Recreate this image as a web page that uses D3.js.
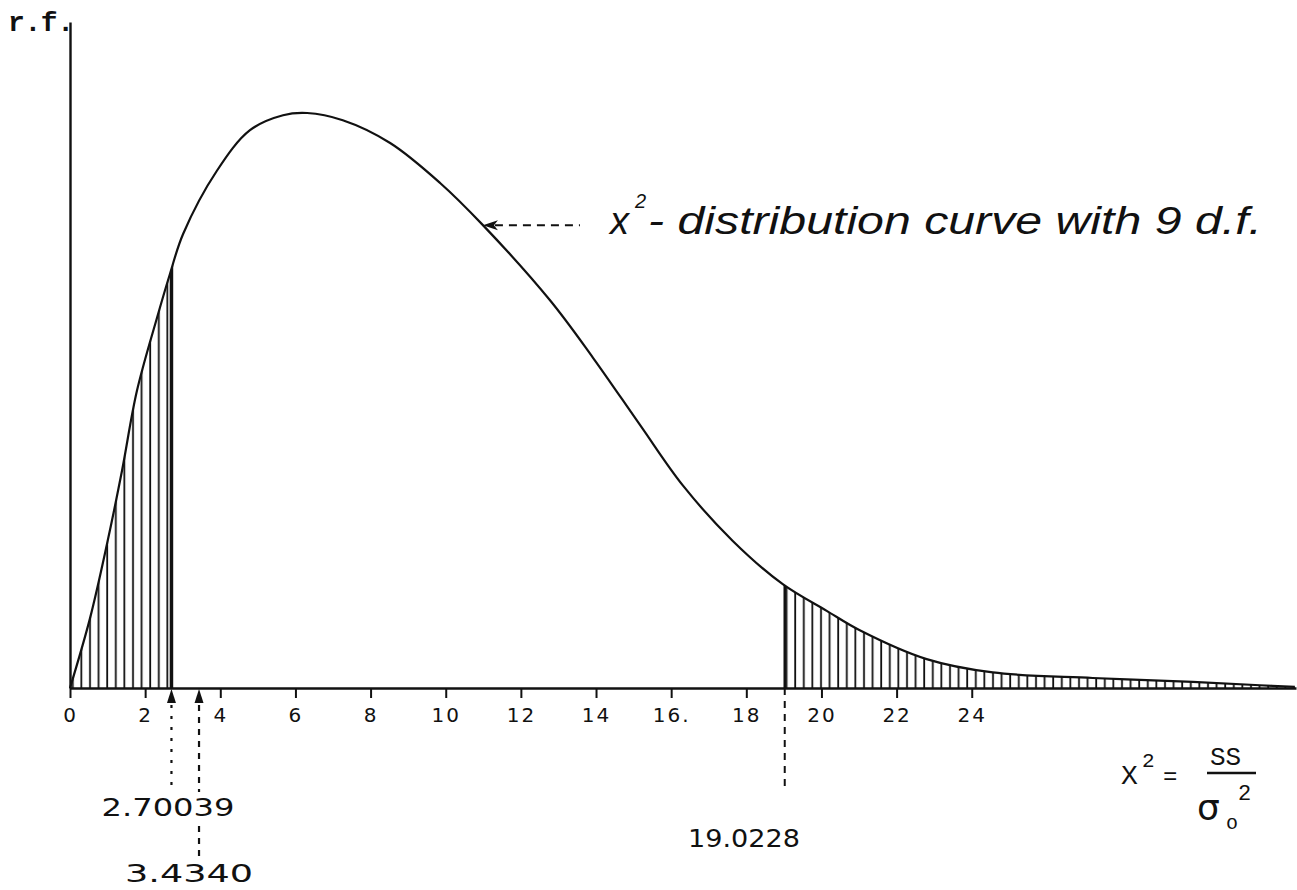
<!DOCTYPE html>
<html>
<head>
<meta charset="utf-8">
<script src="https://cdn.jsdelivr.net/npm/d3@7"></script>
<style>
    body { margin: 0; background: #fff; }
    svg { display: block; }
</style>
</head>
<body>
<div id="chart"></div>
<script>
'use strict';

// points (x = chi-square, y = relative frequency)
const curveX = [0, 0.53, 0.98, 1.38, 1.78, 2.32, 2.66, 3.01, 3.91, 4.79, 5.67, 6.31, 7.26, 8.52, 9.85,
                10.99, 12.77, 13.92, 15.17, 16.31, 17.64, 18.97, 20.14, 21.02, 22.80, 24.56, 27.22, 29.88, 31.67, 32.6];
const curveY = [0, 0.0125, 0.0258, 0.0390, 0.0535, 0.0668, 0.0746, 0.0818, 0.0932, 0.1005, 0.1032, 0.1036, 0.1023, 0.0982, 0.0910,
                0.0834, 0.0699, 0.0595, 0.0474, 0.0365, 0.0265, 0.0187, 0.0139, 0.0104, 0.0052, 0.0028, 0.0018, 0.0011, 0.0005, 0.0002];

const tickValues = [0, 2, 4, 6, 8, 10, 12, 14, 16, 18, 20, 22, 24];
const tickLabels = ["0", "2", "4", "6", "8", "10", "12", "14", "16.", "18", "20", "22", "24"];

const lowerCut = 2.70039;
const lowerMark = 3.4340;
const upperCut = 19.0228;
const cutLabels = ["2.70039", "3.4340", "19.0228"];
const noteIndex = 15;   // the curve point the annotation arrow touches

class ChiSquareSketch {

    constructor (id)
    {
        this.id = id;
        this.width = 1297;
        this.height = 890;
        this.base = 688;
        this.ink = "#111";
        this.xScale = d3.scaleLinear().domain([0, 32.63]).range([70, 1296]);
        this.yScale = d3.scaleLinear().domain([0, 0.12]).range([this.base, 22]);
        this.points = curveX.map((d, i) => [d, curveY[i]]);
        this.curve = d3.curveCatmullRom.alpha(0.5);
    }

    appendSvg ()
    {
        this.svg = d3.select('#' + this.id).append('svg')
            .attr('width', this.width)
            .attr('height', this.height);
        return this;
    }

    appendDefs ()
    {
        let defs = this.svg.append('defs');
        let pattern = defs.append('pattern')
            .attr('id', 'hatch')
            .attr('patternUnits', 'userSpaceOnUse')
            .attr('width', 8.6)
            .attr('height', 10);
        pattern.append('line')
            .attr('x1', 4).attr('x2', 4)
            .attr('y1', 0).attr('y2', 10)
            .attr('stroke', this.ink)
            .attr('stroke-width', 1.8);

        let area = d3.area()
            .x(d => this.xScale(d[0]))
            .y0(this.base)
            .y1(d => this.yScale(d[1]))
            .curve(this.curve);

        defs.append('clipPath')
            .attr('id', 'under')
            .append('path')
            .attr('d', area(this.points));
    }

    createAxes ()
    {
        let xAxis = d3.axisBottom(this.xScale)
            .tickValues(tickValues)
            .tickFormat((d, i) => tickLabels[i])
            .tickSize(10)
            .tickSizeOuter(0);

        let xg = this.svg.append('g')
            .attr('transform', 'translate(0,' + this.base + ')')
            .call(xAxis);
        xg.select('.domain').attr('stroke', this.ink).attr('stroke-width', 2.6);
        xg.selectAll('.tick line').attr('stroke', this.ink).attr('stroke-width', 2);
        xg.selectAll('.tick text')
            .attr('y', 20)
            .attr('fill', this.ink)
            .style('font-family', '"DejaVu Sans", sans-serif')
            .style('font-size', '20px')
            .style('letter-spacing', '2px');

        let yAxis = d3.axisLeft(this.yScale).tickValues([]).tickSizeOuter(0);
        let yg = this.svg.append('g')
            .attr('transform', 'translate(' + this.xScale(0) + ',0)')
            .call(yAxis);
        yg.select('.domain').attr('stroke', this.ink).attr('stroke-width', 2.4);

        this.svg.append('text')
            .attr('x', 8).attr('y', 31)
            .attr('textLength', 66)
            .attr('fill', this.ink)
            .style('font-family', '"Liberation Mono", monospace')
            .style('font-weight', 'bold')
            .style('font-size', '28px')
            .text('r.f.');
    }

    appendHatching ()
    {
        let x = this.xScale;
        let g = this.svg.append('g').attr('clip-path', 'url(#under)');

        g.append('rect')
            .attr('x', x(0)).attr('y', 0)
            .attr('width', x(lowerCut) - x(0)).attr('height', this.base)
            .attr('fill', 'url(#hatch)');
        g.append('rect')
            .attr('x', x(upperCut)).attr('y', 0)
            .attr('width', x(32.63) - x(upperCut)).attr('height', this.base)
            .attr('fill', 'url(#hatch)');

        g.append('line')
            .attr('x1', x(lowerCut)).attr('x2', x(lowerCut))
            .attr('y1', 0).attr('y2', this.base)
            .attr('stroke', this.ink).attr('stroke-width', 3.5);
        g.append('line')
            .attr('x1', x(upperCut)).attr('x2', x(upperCut))
            .attr('y1', 0).attr('y2', this.base)
            .attr('stroke', this.ink).attr('stroke-width', 2.5);
    }

    appendCurve ()
    {
        let line = d3.line()
            .x(d => this.xScale(d[0]))
            .y(d => this.yScale(d[1]))
            .curve(this.curve);

        this.svg.append('path')
            .attr('d', line(this.points))
            .attr('fill', 'none')
            .attr('stroke', this.ink)
            .attr('stroke-width', 2.2);
    }

    appendCutMarks ()
    {
        let x = this.xScale;
        let b = this.base;
        let font = '"DejaVu Sans", sans-serif';

        [lowerCut, lowerMark].forEach(v => {
            let cx = x(v);
            this.svg.append('path')
                .attr('d', 'M' + cx + ',' + (b + 1) + 'L' + (cx + 4.5) + ',' + (b + 15) + 'L' + (cx - 4.5) + ',' + (b + 15) + 'Z')
                .attr('fill', this.ink);
        });

        this.svg.append('line')
            .attr('x1', x(lowerCut)).attr('x2', x(lowerCut))
            .attr('y1', b + 17).attr('y2', 792)
            .attr('stroke', this.ink).attr('stroke-width', 2.2)
            .attr('stroke-dasharray', '3,8');

        [[b + 17, 792], [826, 860]].forEach(seg => {
            this.svg.append('line')
                .attr('x1', x(lowerMark)).attr('x2', x(lowerMark))
                .attr('y1', seg[0]).attr('y2', seg[1])
                .attr('stroke', this.ink).attr('stroke-width', 2.2)
                .attr('stroke-dasharray', '6,6');
        });

        this.svg.append('line')
            .attr('x1', x(upperCut)).attr('x2', x(upperCut))
            .attr('y1', b).attr('y2', 790)
            .attr('stroke', this.ink).attr('stroke-width', 2)
            .attr('stroke-dasharray', '7,6');

        let labelPos = [[168, 816, 133], [189, 882, 128], [744, 847, 112]];
        cutLabels.forEach((t, i) => {
            let p = labelPos[i];
            this.svg.append('text')
                .attr('x', p[0] - p[2] / 2).attr('y', p[1])
                .attr('textLength', p[2])
                .attr('lengthAdjust', 'spacingAndGlyphs')
                .attr('fill', this.ink)
                .style('font-family', font)
                .style('font-size', '25px')
                .text(t);
        });
    }

    appendNote ()
    {
        let tx = this.xScale(curveX[noteIndex]);
        let ty = this.yScale(curveY[noteIndex]);
        let font = '"Liberation Sans", "DejaVu Sans", sans-serif';

        this.svg.append('path')
            .attr('d', 'M' + tx + ',' + ty + 'L' + (tx + 15) + ',' + (ty - 5) + 'L' + (tx + 11) + ',' + ty + 'L' + (tx + 15) + ',' + (ty + 5) + 'Z')
            .attr('fill', this.ink);
        this.svg.append('line')
            .attr('x1', tx + 12).attr('x2', tx + 97)
            .attr('y1', ty).attr('y2', ty)
            .attr('stroke', this.ink).attr('stroke-width', 2)
            .attr('stroke-dasharray', '8,6');

        let note = [
            {x: 610, y: 234, size: 38, text: 'x'},
            {x: 635, y: 208, size: 20, text: '2'},
            {x: 648, y: 234, size: 38, text: '- distribution curve with 9 d.f.', len: 614}
        ];
        note.forEach(n => {
            let t = this.svg.append('text')
                .attr('x', n.x).attr('y', n.y)
                .attr('fill', this.ink)
                .style('font-family', font)
                .style('font-style', 'italic')
                .style('font-size', n.size + 'px')
                .text(n.text);
            if (n.len) t.attr('textLength', n.len).attr('lengthAdjust', 'spacingAndGlyphs');
        });
    }

    appendFormula ()
    {
        let mono = '"Liberation Mono", "DejaVu Sans Mono", monospace';
        let parts = [
            {x: 1121, y: 784, size: 28, text: 'X'},
            {x: 1142, y: 767, size: 21, text: '2'},
            {x: 1163, y: 784, size: 24, text: '='},
            {x: 1210, y: 765, size: 26, text: 'SS'},
            {x: 1197, y: 820, size: 36, text: 'σ', font: '"DejaVu Sans", sans-serif'},
            {x: 1226, y: 829, size: 20, text: 'o'},
            {x: 1238, y: 800, size: 22, text: '2'}
        ];
        parts.forEach(p => {
            this.svg.append('text')
                .attr('x', p.x).attr('y', p.y)
                .attr('fill', this.ink)
                .style('font-family', p.font || mono)
                .style('font-size', p.size + 'px')
                .text(p.text);
        });
        this.svg.append('line')
            .attr('x1', 1207).attr('x2', 1256)
            .attr('y1', 773).attr('y2', 773)
            .attr('stroke', this.ink).attr('stroke-width', 2.6);
    }

    build ()
    {
        this.appendSvg();
        this.appendDefs();
        this.appendHatching();
        this.createAxes();
        this.appendCurve();
        this.appendCutMarks();
        this.appendNote();
        this.appendFormula();
        return this;
    }
}

new ChiSquareSketch('chart').build();
</script>
</body>
</html>
